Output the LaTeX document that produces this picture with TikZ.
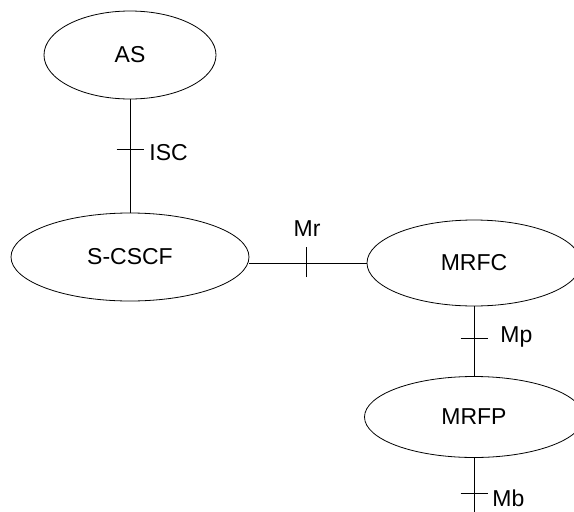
\documentclass[tikz,border=0pt]{standalone}
\usepackage{fontspec}
\setmainfont{Liberation Sans}
\usetikzlibrary{shapes.geometric}
\begin{document}
\begin{tikzpicture}[x=1pt, y=-1pt, line width=0.8pt,
  entity/.style={ellipse, draw, inner sep=0pt, font=\fontsize{23}{27}\selectfont},
  iflabel/.style={inner sep=0pt, font=\fontsize{23}{27}\selectfont}]
\useasboundingbox (0,0) rectangle (574,512);
\clip (0,0) rectangle (574,512);
\node[entity, minimum width=172, minimum height=88] (as) at (130,55){AS};
\node[entity, minimum width=238, minimum height=88] (scscf) at (130,257){S-CSCF};
\node[entity, minimum width=214, minimum height=86] (mrfc) at (474,263){MRFC};
\node[entity, minimum width=219, minimum height=81] (mrfp) at (474,417){MRFP};
\coordinate (mbend) at (474,512);
\draw[](as) -- (scscf);
\draw[](mrfc.west) -- (mrfc.west -| scscf.east);
\draw[](mrfc) -- (mrfp);
\draw[](mrfp) -- (mbend);
% reference points
\coordinate (isct) at (130,149);
\coordinate (mrt) at (306,262);
\coordinate (mpt) at (474,338);
\coordinate (mbt) at (474,493);
\draw[]([xshift=-13.5pt]isct) -- ([xshift=13.5pt]isct);
\draw[]([yshift=-15pt]mrt) -- ([yshift=15pt]mrt);
\draw[]([xshift=-13.5pt]mpt) -- ([xshift=13.5pt]mpt);
\draw[]([xshift=-13.5pt]mbt) -- ([xshift=13.5pt]mbt);
\node[iflabel, anchor=west] (isc) at (149,153){ISC};
\node[iflabel] (mr) at (307,229){Mr};
\node[iflabel, anchor=west] (mp) at (500,337){Mp};
\node[iflabel, anchor=west] (mb) at (492,498){Mb};
\end{tikzpicture}
\end{document}
